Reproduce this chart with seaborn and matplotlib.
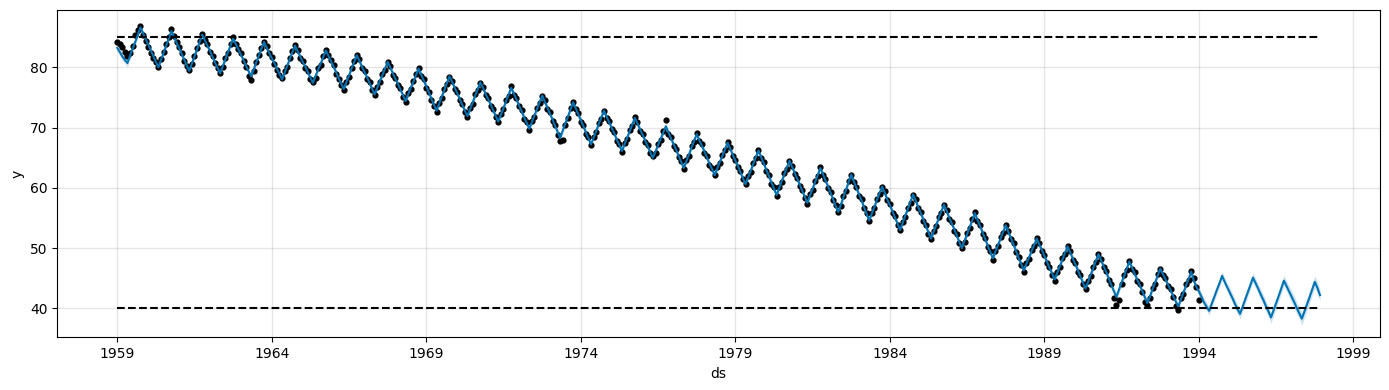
import numpy as np
import pandas as pd
import matplotlib
matplotlib.use("Agg")
import matplotlib.pyplot as plt
import matplotlib.dates as mdates
import seaborn as sns

# logistic growth limits
cap_value = 85
floor_value = 40
start_month = "1959-01-01"

# fitted / forecast values (yhat), one row per year, Jan..Dec
yhat_1959_1968 = [
    83.2, 82.5, 81.8, 81.2, 80.7, 81.9, 83.1, 84.2, 85.4, 86.6, 85.7, 84.7,
    83.8, 82.8, 81.9, 80.9, 80.0, 81.2, 82.4, 83.6, 84.8, 86.0, 85.1, 84.1,
    83.2, 82.2, 81.3, 80.3, 79.4, 80.6, 81.8, 83.0, 84.2, 85.4, 84.5, 83.6,
    82.7, 81.7, 80.8, 79.9, 79.0, 80.2, 81.3, 82.5, 83.6, 84.8, 83.9, 83.0,
    82.1, 81.2, 80.3, 79.4, 78.5, 79.6, 80.8, 81.9, 83.1, 84.2, 83.3, 82.4,
    81.5, 80.7, 79.8, 78.9, 78.0, 79.1, 80.2, 81.4, 82.5, 83.6, 82.7, 81.8,
    80.9, 80.1, 79.2, 78.3, 77.4, 78.5, 79.6, 80.6, 81.7, 82.8, 81.9, 81.0,
    80.1, 79.1, 78.2, 77.3, 76.4, 77.5, 78.6, 79.8, 80.9, 82.0, 81.1, 80.1,
    79.2, 78.3, 77.4, 76.4, 75.5, 76.6, 77.7, 78.7, 79.8, 80.9, 80.0, 79.0,
    78.1, 77.2, 76.3, 75.3, 74.4, 75.5, 76.6, 77.6, 78.7, 79.8, 78.8, 77.8,
]
yhat_1969_1978 = [
    76.8, 75.8, 74.8, 73.8, 72.8, 73.9, 75.1, 76.2, 77.4, 78.5, 77.6, 76.6,
    75.7, 74.7, 73.8, 72.8, 71.9, 73.0, 74.1, 75.3, 76.4, 77.5, 76.6, 75.6,
    74.7, 73.8, 72.9, 71.9, 71.0, 72.1, 73.2, 74.4, 75.5, 76.6, 75.6, 74.7,
    73.7, 72.7, 71.7, 70.8, 69.8, 70.9, 72.0, 73.1, 74.2, 75.3, 74.3, 73.3,
    72.3, 71.3, 70.3, 69.3, 68.3, 69.5, 70.7, 71.8, 73.0, 74.2, 73.2, 72.2,
    71.2, 70.2, 69.2, 68.2, 67.2, 68.3, 69.4, 70.6, 71.7, 72.8, 71.8, 70.9,
    69.9, 69.0, 68.0, 67.1, 66.1, 67.2, 68.3, 69.4, 70.5, 71.6, 70.7, 69.7,
    68.8, 67.8, 66.9, 65.9, 65.0, 66.0, 67.1, 68.1, 69.2, 70.2, 69.2, 68.2,
    67.2, 66.3, 65.3, 64.3, 63.3, 64.4, 65.5, 66.7, 67.8, 68.9, 67.9, 67.0,
    66.0, 65.0, 64.0, 63.1, 62.1, 63.2, 64.3, 65.3, 66.4, 67.5, 66.5, 65.5,
]
yhat_1979_1988 = [
    64.5, 63.6, 62.6, 61.6, 60.6, 61.7, 62.8, 64.0, 65.1, 66.2, 65.1, 64.1,
    63.0, 62.0, 60.9, 59.9, 58.8, 59.9, 61.1, 62.2, 63.4, 64.5, 63.5, 62.5,
    61.5, 60.5, 59.5, 58.5, 57.5, 58.7, 59.8, 61.0, 62.1, 63.3, 62.3, 61.2,
    60.2, 59.1, 58.1, 57.0, 56.0, 57.2, 58.5, 59.7, 61.0, 62.2, 61.1, 60.0,
    58.9, 57.9, 56.8, 55.7, 54.6, 55.7, 56.8, 58.0, 59.1, 60.2, 59.2, 58.1,
    57.1, 56.1, 55.1, 54.0, 53.0, 54.2, 55.4, 56.5, 57.7, 58.9, 57.9, 56.8,
    55.8, 54.7, 53.7, 52.6, 51.6, 52.7, 53.8, 55.0, 56.1, 57.2, 56.2, 55.1,
    54.1, 53.1, 52.1, 51.0, 50.0, 51.2, 52.3, 53.5, 54.6, 55.8, 54.7, 53.7,
    52.6, 51.5, 50.4, 49.4, 48.3, 49.4, 50.5, 51.6, 52.7, 53.8, 52.7, 51.7,
    50.6, 49.5, 48.4, 47.4, 46.3, 47.4, 48.4, 49.5, 50.5, 51.6, 50.6, 49.7,
]
yhat_1989_1997 = [
    48.7, 47.7, 46.7, 45.8, 44.8, 45.9, 47.0, 48.1, 49.2, 50.3, 49.3, 48.3,
    47.3, 46.3, 45.3, 44.3, 43.3, 44.4, 45.6, 46.7, 47.9, 49.0, 48.0, 47.0,
    46.0, 44.9, 43.9, 42.9, 41.9, 43.1, 44.3, 45.4, 46.6, 47.8, 46.8, 45.8,
    44.8, 43.9, 42.9, 41.9, 40.9, 42.0, 43.2, 44.3, 45.5, 46.6, 45.7, 44.8,
    43.9, 43.0, 42.1, 41.2, 40.3, 41.5, 42.6, 43.8, 44.9, 46.1, 44.6, 43.6,
    42.8, 41.9, 41.0, 40.3, 39.6, 40.8, 41.9, 43.1, 44.2, 45.4, 44.4, 43.5,
    42.6, 41.7, 40.8, 39.9, 39.1, 40.3, 41.5, 42.7, 43.9, 45.1, 44.2, 43.3,
    42.3, 41.4, 40.4, 39.5, 38.5, 39.7, 40.9, 42.1, 43.4, 44.6, 43.7, 42.8,
    41.9, 41.0, 40.1, 39.2, 38.3, 39.5, 40.7, 41.9, 43.2, 44.4, 43.4, 42.2,
]

# observed data points, 1959-01 .. 1994-01
obs_1959_1968 = [
    84.2, 83.9, 83.4, 82.5, 81.8, 82.4, 83.6, 85.3, 86.2, 86.9, 85.3, 84.3,
    83.3, 82.4, 81.6, 80.8, 80.1, 81.3, 82.6, 83.9, 85.0, 86.3, 85.2, 84.2,
    83.4, 82.3, 81.1, 80.2, 79.6, 80.5, 81.9, 83.2, 84.4, 85.5, 84.6, 83.8,
    82.6, 81.9, 80.7, 79.8, 79.1, 80.0, 81.5, 82.4, 83.8, 85.0, 83.8, 83.1,
    82.3, 81.0, 80.1, 78.6, 77.9, 79.4, 80.9, 82.1, 83.2, 84.2, 83.5, 82.3,
    81.7, 80.5, 79.6, 78.8, 78.2, 79.3, 80.0, 81.5, 82.7, 83.7, 82.9, 81.6,
    81.1, 79.9, 79.3, 78.1, 77.6, 78.3, 79.8, 80.4, 81.9, 82.9, 82.1, 81.2,
    80.3, 78.9, 78.0, 77.1, 76.2, 77.6, 78.4, 79.9, 81.1, 82.0, 81.3, 79.9,
    79.4, 78.1, 77.6, 76.2, 75.4, 76.8, 77.5, 78.9, 79.6, 80.9, 80.2, 78.8,
    78.2, 77.0, 76.5, 75.1, 74.3, 75.7, 76.4, 77.8, 78.9, 79.9, 78.6, 78.0,
]
obs_1969_1978 = [
    76.6, 75.9, 74.6, 73.6, 72.6, 74.1, 74.9, 76.4, 77.2, 78.4, 77.8, 76.4,
    75.9, 74.5, 73.9, 72.6, 71.8, 73.2, 73.9, 75.5, 76.2, 77.4, 76.8, 75.4,
    74.9, 73.6, 73.1, 71.7, 71.0, 72.3, 73.0, 74.6, 75.3, 76.9, 75.4, 74.9,
    73.5, 72.9, 71.5, 70.9, 69.6, 71.1, 71.8, 73.3, 74.0, 75.2, 74.5, 73.1,
    72.5, 71.1, 70.5, 68.7, 67.7, 68.0, 70.4, 71.6, 73.2, 74.3, 73.0, 72.4,
    71.0, 70.4, 69.0, 68.4, 67.1, 68.5, 69.2, 70.8, 71.5, 72.8, 71.6, 71.1,
    69.7, 69.2, 67.8, 67.3, 66.0, 67.4, 68.1, 69.6, 70.3, 71.7, 70.9, 69.5,
    69.0, 67.6, 67.1, 65.7, 65.2, 65.8, 67.3, 67.9, 69.4, 71.2, 69.0, 68.4,
    67.0, 66.5, 65.1, 64.5, 63.2, 64.6, 65.3, 66.9, 67.6, 69.1, 67.7, 67.2,
    65.8, 65.2, 63.8, 63.3, 62.1, 63.4, 64.1, 65.5, 66.2, 67.6, 66.7, 65.3,
]
obs_1979_1988 = [
    64.7, 63.4, 62.8, 61.4, 60.6, 61.9, 62.6, 64.2, 64.9, 66.3, 64.9, 64.3,
    62.8, 62.2, 60.7, 60.1, 58.6, 60.1, 60.9, 62.4, 63.2, 64.4, 63.7, 62.3,
    61.7, 60.3, 59.7, 58.3, 57.4, 58.9, 59.6, 61.2, 61.9, 63.4, 62.1, 61.4,
    60.0, 59.3, 57.9, 57.2, 56.0, 57.0, 58.7, 59.5, 61.2, 62.2, 60.9, 60.2,
    58.7, 58.1, 56.6, 55.9, 54.5, 55.9, 56.6, 58.2, 58.9, 60.2, 59.4, 57.9,
    57.3, 55.9, 55.3, 53.8, 53.0, 54.4, 55.2, 56.7, 57.5, 58.8, 58.1, 56.6,
    56.0, 54.5, 53.9, 52.4, 51.5, 52.9, 53.6, 55.2, 55.9, 57.1, 56.4, 54.9,
    54.3, 52.9, 52.3, 50.8, 50.0, 51.0, 52.5, 53.3, 54.8, 56.0, 54.5, 53.9,
    52.4, 51.7, 50.2, 49.6, 48.1, 49.6, 50.3, 51.8, 52.5, 53.8, 52.9, 51.5,
    50.8, 49.3, 48.6, 47.2, 46.1, 47.6, 48.2, 49.7, 50.3, 51.6, 50.8, 49.5,
]
obs_1989_1994 = [
    48.9, 47.5, 46.9, 45.6, 44.6, 46.1, 46.8, 48.3, 49.0, 50.3, 49.5, 48.1,
    47.5, 46.1, 45.5, 44.1, 43.2, 44.6, 45.4, 46.9, 47.7, 49.1, 48.2, 46.8,
    46.2, 44.7, 44.1, 41.7, 40.6, 41.4, 44.1, 45.6, 46.4, 47.9, 46.6, 46.0,
    44.6, 44.1, 42.7, 41.0, 40.5, 41.8, 43.4, 44.1, 45.7, 46.6, 45.5, 45.0,
    43.7, 43.2, 41.9, 40.4, 39.7, 41.7, 42.4, 44.0, 44.7, 46.2, 45.0, 43.6,
    41.4,
]

# half width of the uncertainty interval
band_hist = 0.6
band_fcst = [0.7, 0.8, 0.9, 1.0]  # 1994..1997

yhat = np.array(yhat_1959_1968 + yhat_1969_1978 + yhat_1979_1988 + yhat_1989_1997)
obs = np.array(obs_1959_1968 + obs_1969_1978 + obs_1979_1988 + obs_1989_1994)

ds = pd.date_range(start_month, periods=len(yhat), freq="MS")
hist = pd.DataFrame({"ds": ds[:len(obs)], "y": obs})
width = np.concatenate([np.full(len(yhat) - 12 * len(band_fcst), band_hist), np.repeat(band_fcst, 12)])
fcst = pd.DataFrame({"ds": ds, "yhat": yhat, "lower": yhat - width, "upper": yhat + width})
fcst["cap"] = cap_value
fcst["floor"] = floor_value

fig, ax = plt.subplots(figsize=(13.89, 3.9), dpi=100)
fig.subplots_adjust(left=0.0413, right=0.9935, top=0.9736, bottom=0.135)
sns.scatterplot(data=hist, x="ds", y="y", color="k", s=12, edgecolor="k", linewidth=1, zorder=2, ax=ax)
sns.lineplot(data=fcst, x="ds", y="yhat", color="#0072B2", linewidth=1.5, ax=ax)
sns.lineplot(data=fcst, x="ds", y="cap", color="k", linestyle="--", linewidth=1.5, ax=ax)
sns.lineplot(data=fcst, x="ds", y="floor", color="k", linestyle="--", linewidth=1.5, ax=ax)
ax.fill_between(fcst["ds"], fcst["lower"], fcst["upper"], color="#0072B2", alpha=0.2, linewidth=0)

ax.set_xticks([pd.Timestamp(f"{yr}-01-01") for yr in range(1959, 2000, 5)])
ax.xaxis.set_major_formatter(mdates.DateFormatter("%Y"))
ax.set_xlim(pd.Timestamp("1957-01-23"), pd.Timestamp("1999-11-10"))
ax.set_ylim(35.2, 89.45)
ax.grid(True, which="major", c="gray", ls="-", lw=1, alpha=0.2)
ax.set_xlabel("ds")
ax.set_ylabel("y")

fig.savefig("out.png", dpi=100)
